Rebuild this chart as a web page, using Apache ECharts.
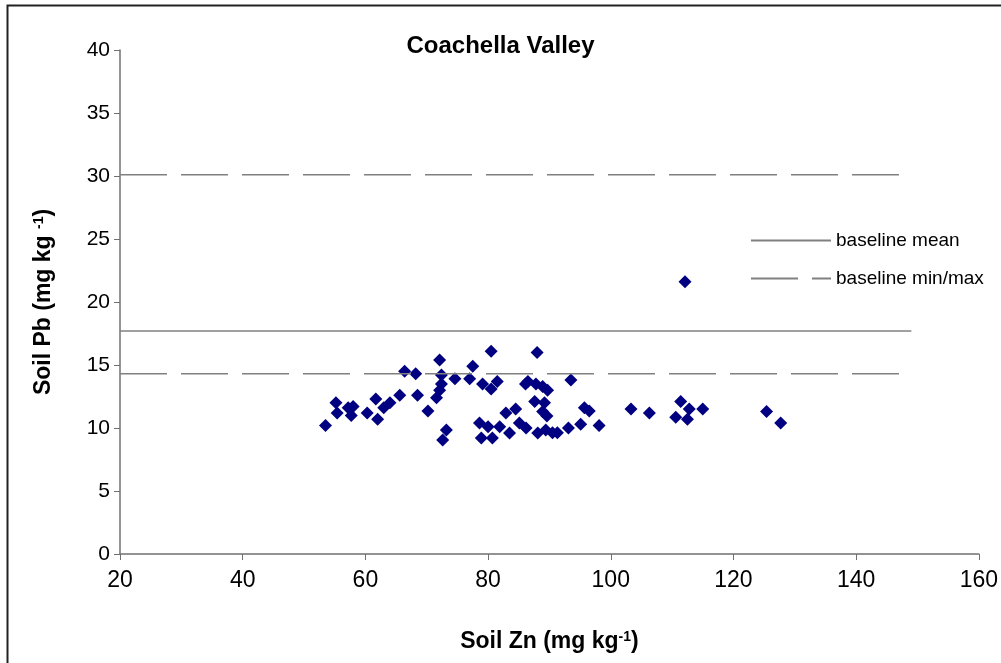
<!DOCTYPE html>
<html>
<head>
<meta charset="utf-8">
<script src="https://cdn.jsdelivr.net/npm/echarts@6/dist/echarts.min.js"></script>
<style>
  html, body { margin: 0; padding: 0; background: #fff; }
  #chart { width: 1001px; height: 663px; }
</style>
</head>
<body>
<div id="chart"></div>
<script>
// soil samples, Coachella Valley
const soilZn = [53.5, 55.2, 55.4, 57.2, 58.0, 57.7, 60.3, 61.7, 62.0, 63.0,
    64.0, 65.6, 66.4, 68.2, 68.5, 70.2, 72.1, 72.4, 72.4, 72.1,
    71.6, 73.2, 72.6, 74.6, 77.0, 77.5, 79.1, 80.5, 81.5, 80.5,
    78.6, 80.0, 78.9, 80.7, 81.9, 82.9, 84.5, 83.5, 85.1, 86.1,
    86.2, 88.0, 86.5, 87.8, 88.9, 89.7, 87.6, 89.2, 88.9, 89.6,
    93.5, 95.7, 96.5, 88.1, 89.4, 90.5, 91.3, 93.1, 95.1, 98.1,
    103.3, 106.3, 111.4, 112.8, 115.0, 110.6, 112.5, 125.4, 127.7, 112.1];
const soilPb = [10.2, 12.0, 11.2, 11.6, 11.7, 11.0, 11.2, 12.3, 10.7, 11.6,
    12.0, 12.6, 14.5, 14.3, 12.6, 11.35, 15.4, 14.2, 13.5, 13.0,
    12.4, 9.84, 9.05, 13.9, 13.9, 14.9, 13.5, 13.1, 13.7, 16.1,
    10.4, 10.1, 9.2, 9.2, 10.1, 11.2, 11.5, 9.6, 10.4, 13.5,
    10.0, 16.0, 13.7, 13.5, 13.3, 13.0, 12.1, 12.0, 11.3, 10.95,
    13.8, 11.6, 11.35, 9.6, 9.84, 9.63, 9.63, 10.0, 10.3, 10.2,
    11.5, 11.2, 12.1, 11.5, 11.5, 10.85, 10.7, 11.3, 10.4, 21.6];

const baselineMean = 17.7;
const baselineMin = 14.3;
const baselineMax = 30.1;
const baselineSpan = [20, 149];

const xTicks = [20, 160, 20];   // min, max, step
const yTicks = [0, 40, 5];

const font = 'Arial, "Liberation Sans", sans-serif';
const refColor = '#808080';

function hline(v) {
    return [[baselineSpan[0], v], [baselineSpan[1], v]];
}

window.onload = () => {
    const chart = echarts.init(document.getElementById('chart'));

    const supStyle = {fontFamily: font, fontSize: 14, fontWeight: 'bold', color: '#000', verticalAlign: 'top', padding: [0, 0, 10, 0]};

    const option = {
        animation: false,
        backgroundColor: '#fff',
        textStyle: {fontFamily: font},
        title: {
            text: 'Coachella Valley',
            left: 'center', top: 29,
            textStyle: {fontFamily: font, fontSize: 24, fontWeight: 'bold', color: '#000'}
        },
        graphic: [{
            type: 'rect',
            left: 5, top: 3,
            shape: {width: 1200, height: 800},
            style: {fill: 'none', stroke: '#222', lineWidth: 2},
            silent: true
        }],
        legend: {
            orient: 'vertical',
            left: 745, top: 226,
            itemWidth: 80, itemHeight: 14, itemGap: 19,
            itemStyle: {opacity: 0},
            data: ['baseline mean', 'baseline min/max'],
            textStyle: {fontFamily: font, fontSize: 19, color: '#000'}
        },
        grid: {left: 120, right: 21, top: 50, bottom: 109},
        xAxis: {
            type: 'value',
            min: xTicks[0], max: xTicks[1], interval: xTicks[2],
            name: 'Soil Zn (mg kg{sup|-1})',
            nameLocation: 'middle', nameGap: 76,
            nameTextStyle: {
                fontFamily: font, fontSize: 23, fontWeight: 'bold', color: '#000',
                rich: {sup: supStyle}
            },
            axisLine: {lineStyle: {color: '#707070', width: 1.5}},
            axisTick: {length: 6, lineStyle: {color: '#707070'}},
            axisLabel: {fontFamily: font, fontSize: 23, color: '#000', margin: 15},
            splitLine: {show: false}
        },
        yAxis: {
            type: 'value',
            min: yTicks[0], max: yTicks[1], interval: yTicks[2],
            name: 'Soil Pb (mg kg {sup|-1})',
            nameLocation: 'middle', nameGap: 64, nameRotate: 90,
            nameTextStyle: {
                fontFamily: font, fontSize: 23, fontWeight: 'bold', color: '#000',
                rich: {sup: supStyle}
            },
            axisLine: {show: true, lineStyle: {color: '#707070', width: 1.5}},
            axisTick: {show: true, length: 6, lineStyle: {color: '#707070'}},
            axisLabel: {fontFamily: font, fontSize: 21, color: '#000', margin: 10},
            splitLine: {show: false}
        },
        series: [
            {
                name: 'baseline mean', type: 'line', data: hline(baselineMean),
                symbol: 'none', silent: true,
                lineStyle: {color: refColor, width: 1.5},
                itemStyle: {color: refColor}
            },
            {
                name: 'baseline min/max', type: 'line', data: hline(baselineMin),
                symbol: 'none', silent: true,
                lineStyle: {color: refColor, width: 1.5, type: [47, 14]},
                itemStyle: {color: refColor}
            },
            {
                name: 'baseline min/max', type: 'line', data: hline(baselineMax),
                symbol: 'none', silent: true,
                lineStyle: {color: refColor, width: 1.5, type: [47, 14]},
                itemStyle: {color: refColor}
            },
            {
                name: 'samples', type: 'scatter',
                data: soilZn.map((zn, i) => [zn, soilPb[i]]),
                symbol: 'diamond', symbolSize: 13,
                itemStyle: {color: '#000080', opacity: 1}
            }
        ]
    };

    chart.setOption(option);
};
</script>
</body>
</html>
